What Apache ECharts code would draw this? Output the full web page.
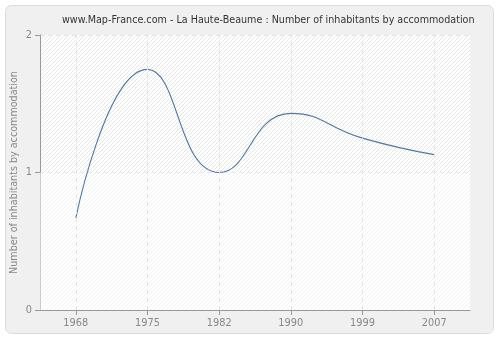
<!DOCTYPE html>
<html><head><meta charset="utf-8">
<script src="https://cdn.jsdelivr.net/npm/echarts@6/dist/echarts.min.js"></script>
<style>html,body{margin:0;padding:0;background:#fff}#c{width:500px;height:340px}</style>
</head><body><div id="c"></div>
<script>
const titleText = 'www.Map-France.com - La Haute-Beaume : Number of inhabitants by accommodation';
const yName = 'Number of inhabitants by accommodation';
const years = ['1968', '1975', '1982', '1990', '1999', '2007'];
const values = [0.67, 1.75, 1.0, 1.43, 1.25, 1.13];
const yMin = 0, yMax = 2, yStep = 1;

function hatch() {
  const c = document.createElement('canvas');
  c.width = 4; c.height = 4;
  const g = c.getContext('2d');
  g.fillStyle = '#ffffff'; g.fillRect(0, 0, 4, 4);
  g.strokeStyle = '#e6e6e6'; g.lineWidth = 1;
  g.beginPath();
  g.moveTo(-1, 5); g.lineTo(5, -1);
  g.moveTo(3, 5); g.lineTo(5, 3);
  g.moveTo(-1, 1); g.lineTo(1, -1);
  g.stroke();
  return c;
}

const chart = echarts.init(document.getElementById('c'), null, {renderer: 'canvas'});
const font = 'DejaVu Sans, Verdana, sans-serif';
const dashed = {color: '#e2e2e2', type: [4, 4], width: 1};
chart.setOption({
  animation: false,
  backgroundColor: '#ffffff',
  graphic: [{
    type: 'rect', z: -10, silent: true,
    shape: {x: 5.5, y: 5.5, width: 488, height: 328, r: 6},
    style: {fill: '#f0f0f0', stroke: '#dcdcdc', lineWidth: 1}
  }],
  title: {
    text: titleText, left: 57, top: 10,
    textStyle: {fontFamily: font, fontSize: 9.6, fontWeight: 'normal', color: '#333'}
  },
  grid: {
    left: 40, right: 30, top: 35, bottom: 30, containLabel: false,
    outerBoundsMode: 'none',
    show: true, borderWidth: 0,
    backgroundColor: {image: hatch(), repeat: 'repeat'}
  },
  xAxis: {
    type: 'category', data: years, boundaryGap: true,
    axisLine: {show: true, lineStyle: {color: '#999'}},
    axisTick: {show: true, alignWithLabel: true, length: 5, lineStyle: {color: '#999'}},
    axisLabel: {fontFamily: font, fontSize: 9.8, color: '#888', margin: 8},
    splitLine: {show: false}
  },
  yAxis: {
    type: 'value', min: yMin, max: yMax, interval: yStep,
    name: yName, nameLocation: 'middle', nameGap: 21, nameMoveOverlap: false,
    nameTextStyle: {fontFamily: font, fontSize: 9.6, color: '#888'},
    axisLine: {show: true, lineStyle: {color: '#999'}},
    axisTick: {show: true, length: 5, lineStyle: {color: '#999'}},
    axisLabel: {fontFamily: font, fontSize: 9.8, color: '#888', margin: 8},
    splitLine: {show: true, lineStyle: dashed}
  },
  series: [{
    type: 'line', data: values, smooth: 0.5, showSymbol: false,
    lineStyle: {color: '#4f79ab', width: 1.1},
    markArea: {
      silent: true,
      itemStyle: {color: 'rgba(255,255,255,0.5)'},
      data: [[{yAxis: yMin}, {yAxis: 1}]]
    },
    markLine: {
      silent: true, symbol: 'none', label: {show: false},
      lineStyle: dashed,
      data: years.map(y => ({xAxis: y}))
    }
  }]
});
</script></body></html>
